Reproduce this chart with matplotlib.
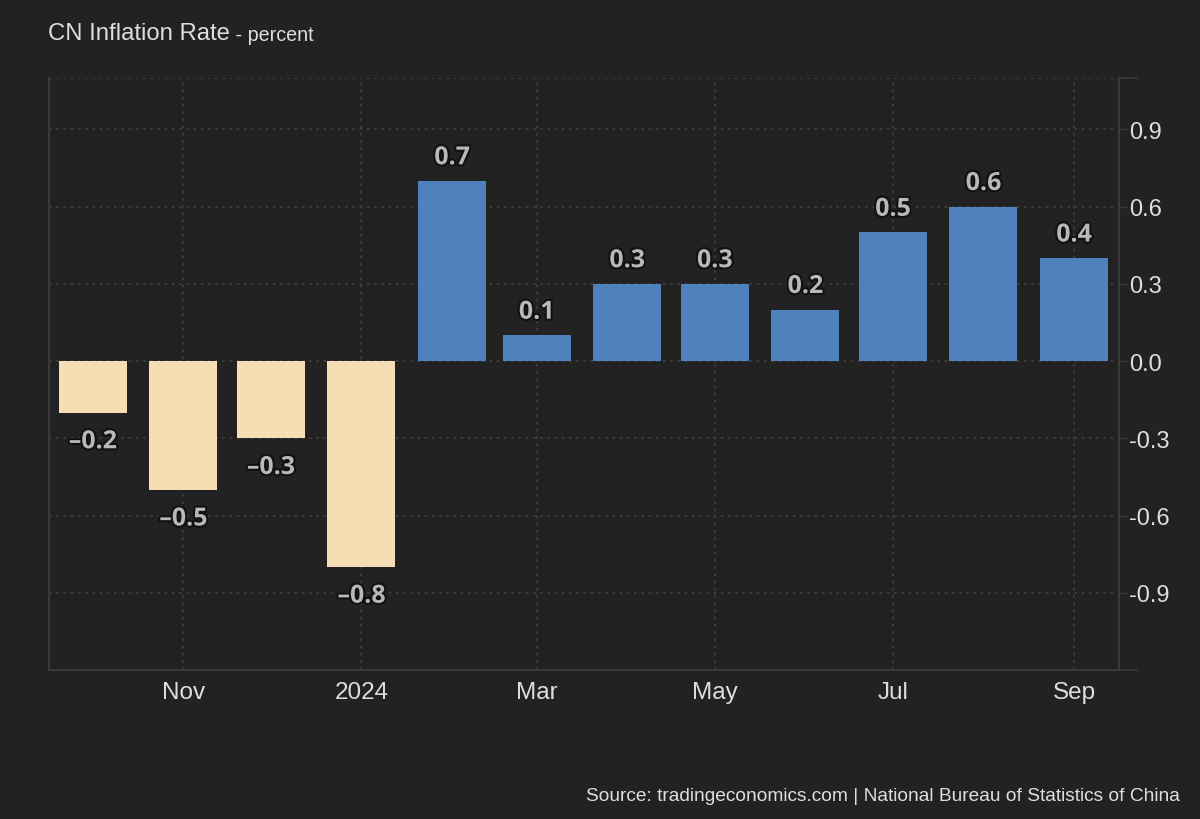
import numpy as np
import matplotlib
matplotlib.use("Agg")
import matplotlib.pyplot as plt
import matplotlib.dates as mdates
import matplotlib.patheffects as pe
import pandas as pd

# --- data ---
months = pd.date_range("2023-10-01", "2024-09-01", freq="MS")
values = [-0.2, -0.5, -0.3, -0.8, 0.7, 0.1, 0.3, 0.3, 0.2, 0.5, 0.6, 0.4]
tick_dates = pd.to_datetime(["2023-11-01", "2024-01-01", "2024-03-01",
                             "2024-05-01", "2024-07-01", "2024-09-01"])
tick_labels = ["Nov", "2024", "Mar", "May", "Jul", "Sep"]
y_ticks = [-0.9, -0.6, -0.3, 0.0, 0.3, 0.6, 0.9]

# --- style ---
bg = "#222222"
axis_col = "#3a3a3a"
grid_col = "#3e3e3e"
text_col = "#dedede"
pos_col = "#4f81bd"
neg_col = "#f5deb3"
sans = ["Liberation Sans", "DejaVu Sans"]

fig = plt.figure(figsize=(12, 8.2), dpi=100, facecolor=bg)
ax = fig.add_axes([49 / 1200, 1 - 671 / 820, (1119 - 49) / 1200, (671 - 79) / 820])
ax.set_facecolor(bg)

x = mdates.date2num(months)
colors = [pos_col if v >= 0 else neg_col for v in values]
ax.bar(x, values, width=23.3, color=colors, zorder=2)

# value labels
for xi, v in zip(x, values):
    txt = f"{v:.1f}".replace("-", "\u2013")
    if v >= 0:
        ann = ax.annotate(txt, (xi, v), xytext=(0, 12), textcoords="offset points",
                          ha="center", va="baseline")
    else:
        ann = ax.annotate(txt, (xi, v), xytext=(0, -12), textcoords="offset points",
                          ha="center", va="top")
    ann.set_fontfamily(["Open Sans", "DejaVu Sans"])
    ann.set_fontweight("bold")
    ann.set_fontsize(18)
    ann.set_color("#b8b8b8")
    ann.set_zorder(4)
    ann.set_path_effects([pe.withStroke(linewidth=3, foreground="#111111")])

# axes limits
ax.set_xlim(mdates.date2num(pd.Timestamp("2023-09-16")),
            mdates.date2num(pd.Timestamp("2024-09-16 10:00")))
ax.set_ylim(-1.2, 1.1)

# x axis
ax.set_xticks(mdates.date2num(tick_dates))
ax.set_xticklabels(tick_labels)
ax.tick_params(axis="x", length=0, pad=8, labelsize=17.5, labelcolor=text_col)

# y axis on the right
ax.yaxis.tick_right()
ax.set_yticks(y_ticks)
ax.set_yticklabels([f"{t:.1f}" for t in y_ticks])
ax.set_yticks([-1.2, 1.1], minor=True)
ax.tick_params(axis="y", which="major", length=6, width=1, color=axis_col,
               pad=1, labelsize=17, labelcolor=text_col)
ax.tick_params(axis="y", which="minor", length=14, width=1.2, color=axis_col)
for lab in ax.get_xticklabels() + ax.get_yticklabels():
    lab.set_fontfamily(sans)

# grid
ax.set_axisbelow(True)
ax.grid(True, which="major", color=grid_col, linestyle=(0, (1.5, 2.5)), linewidth=1.3)
ax.grid(True, which="minor", axis="y", color=grid_col, linestyle=(0, (1.5, 2.5)), linewidth=1.3)

for side in ["left", "right", "bottom"]:
    ax.spines[side].set_color(axis_col)
    ax.spines[side].set_linewidth(1.5)
ax.spines["top"].set_visible(False)

# titles
title = fig.text(48 / 1200, 1 - 45 / 820, "CN Inflation Rate", fontsize=17.2,
                 color=text_col, family=sans, ha="left", va="bottom")
ax.annotate(" - percent", xy=(1, 0), xycoords=title, fontsize=14.2, color=text_col,
            family=sans, ha="left", va="bottom", annotation_clip=False)

fig.text(1180 / 1200, 1 - 805 / 820,
         "Source: tradingeconomics.com | National Bureau of Statistics of China",
         fontsize=13.8, color=text_col, family=sans, ha="right", va="bottom")

fig.savefig("out.png", dpi=100, facecolor=bg)
